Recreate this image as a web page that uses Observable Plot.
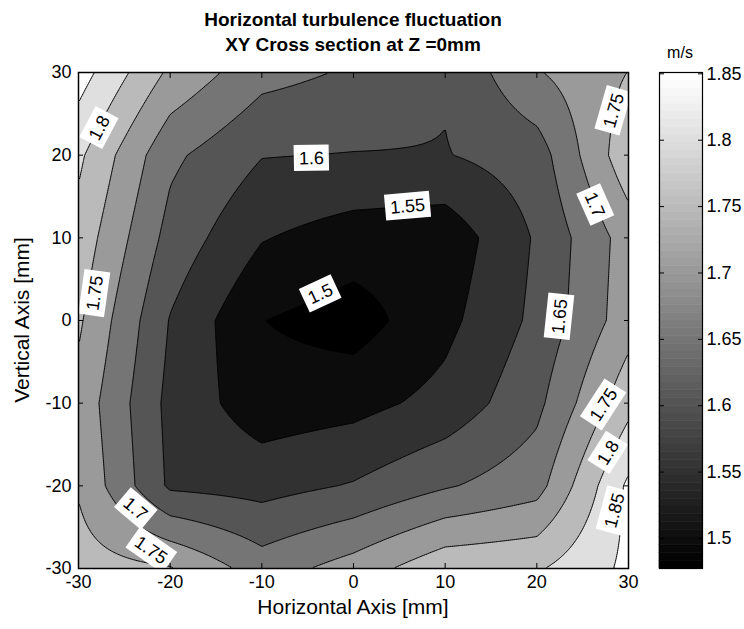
<!DOCTYPE html>
<html><head><meta charset="utf-8">
<script src="https://cdn.jsdelivr.net/npm/d3@7"></script>
<script src="https://cdn.jsdelivr.net/npm/@observablehq/plot@0.6"></script>
<style>
body{margin:0;background:#fff;}
#fig{position:relative;width:744px;height:629px;font-family:"Liberation Sans",Arial,Helvetica,sans-serif;color:#000;overflow:hidden;}
.abs{position:absolute;white-space:nowrap;line-height:1;}
</style></head><body><div id="fig"></div>
<script>
// ---- data (7x7 measurement grid, m/s) ----
const xGrid = [-30, -20, -10, 0, 10, 20, 30];
const yGrid = [30, 20, 10, 0, -10, -20, -30];
const rowY30  = [1.873, 1.740, 1.667, 1.644, 1.605, 1.696, 1.751];
const rowY20  = [1.810, 1.661, 1.602, 1.598, 1.5976, 1.625, 1.785];
const rowY10  = [1.781, 1.632, 1.553, 1.526, 1.5175, 1.606, 1.723];
const rowY0   = [1.758, 1.597, 1.501, 1.477, 1.536, 1.612, 1.728];
const rowYm10 = [1.733, 1.585, 1.521, 1.533, 1.566, 1.637, 1.784];
const rowYm20 = [1.745, 1.591, 1.581, 1.604, 1.645, 1.680, 1.860];
const rowYm30 = [1.773, 1.754, 1.675, 1.722, 1.787, 1.794, 1.861];
const levels = [1.5, 1.55, 1.6, 1.65, 1.7, 1.75, 1.8, 1.85];
const colorLimits = [1.4774, 1.851];
const axisTicks = [-30, -20, -10, 0, 10, 20, 30];
const colorbarTicks = [1.5, 1.55, 1.6, 1.65, 1.7, 1.75, 1.8, 1.85];
// contour labels (inline, MATLAB clabel style)
const labelText  = ["1.8", "1.75", "1.6", "1.55", "1.5", "1.75", "1.7", "1.65", "1.75", "1.8", "1.85", "1.7", "1.75"];
const labelX     = [-27.7, -28.2, -4.6, 5.9, -3.6, 28.4, 26.3, 22.5, 27.3, 27.8, 28.5, -23.8, -22.1];
const labelY     = [23.3, 3.3, 19.6, 13.8, 3.2, 25.4, 14.0, 0.5, -10.2, -16.0, -23.0, -22.8, -27.8];
const labelAngle = [-62, -82, -1, -5, -25, -74, 66, -84, -57, -58, -75, 40, 35];

const zRows = [rowY30, rowY20, rowY10, rowY0, rowYm10, rowYm20, rowYm30];
function gridValue(x, y) {
  const nx = xGrid.length - 1, ny = yGrid.length - 1;
  let fx = (x - xGrid[0]) / (xGrid[1] - xGrid[0]);
  let fy = (yGrid[0] - y) / (yGrid[0] - yGrid[1]);
  fx = Math.max(0, Math.min(nx - 1e-9, fx));
  fy = Math.max(0, Math.min(ny - 1e-9, fy));
  const i = Math.floor(fx), j = Math.floor(fy), tx = fx - i, ty = fy - j;
  const a = zRows[j][i], b = zRows[j][i + 1], c = zRows[j + 1][i], d = zRows[j + 1][i + 1];
  return (a * (1 - tx) + b * tx) * (1 - ty) + (c * (1 - tx) + d * tx) * ty;
}
// MATLAB 64-level gray colormap
function grayOf(v) {
  const [lo, hi] = colorLimits;
  const k = Math.max(0, Math.min(63, Math.floor((v - lo) / (hi - lo) * 64)));
  const g = Math.round(k / 63 * 255);
  return `rgb(${g},${g},${g})`;
}

const font = '"Liberation Sans", Arial, Helvetica, sans-serif';
const fig = document.getElementById("fig");

const main = Plot.plot({
  width: 640, height: 629,
  marginLeft: 78, marginRight: 12, marginTop: 72, marginBottom: 61,
  style: {fontFamily: font, fontSize: "18px", background: "transparent", overflow: "visible"},
  x: {domain: [-30, 30]},
  y: {domain: [-30, 30]},
  color: {type: "ordinal", domain: levels, range: levels.map(grayOf)},
  marks: [
    Plot.frame({fill: grayOf(colorLimits[0])}),
    Plot.contour({x1: -30, x2: 30, y1: -30, y2: 30, fill: gridValue, thresholds: levels, stroke: "black", strokeWidth: 1}),
    Plot.text(labelText.map((t, i) => i), {
      x: i => labelX[i], y: i => labelY[i], text: i => labelText[i], rotate: i => labelAngle[i],
      fontSize: 18, fill: "black"
    }),
    Plot.axisX({anchor: "bottom", ticks: axisTicks, tickSize: -5, tickPadding: 12, tickFormat: d => String(d), label: null}),
    Plot.axisX({anchor: "top", ticks: axisTicks, tickSize: -5, tickFormat: () => "", label: null}),
    Plot.axisY({anchor: "left", ticks: axisTicks, tickSize: -5, tickPadding: 12, tickFormat: d => String(d), label: null}),
    Plot.axisY({anchor: "right", ticks: axisTicks, tickSize: -5, tickFormat: () => "", label: null}),
    Plot.frame({stroke: "black", strokeWidth: 1.5})
  ]
});
main.style.position = "absolute"; main.style.left = "0px"; main.style.top = "0px";
fig.appendChild(main);

// white boxes behind inline contour labels (the rotated text elements of the text mark)
Array.from(main.querySelectorAll("text"))
  .filter(t => /rotate/.test(t.getAttribute("transform") || "") && labelText.includes(t.textContent))
  .forEach(t => {
    const b = t.getBBox();
    const r = document.createElementNS("http://www.w3.org/2000/svg", "rect");
    r.setAttribute("x", b.x - 5); r.setAttribute("y", b.y - 3.5);
    r.setAttribute("width", b.width + 10); r.setAttribute("height", b.height + 6);
    r.setAttribute("fill", "white");
    r.setAttribute("transform", t.getAttribute("transform"));
    t.parentNode.insertBefore(r, t);
  });

// colorbar
const steps = d3.range(64).map(k => ({
  lo: colorLimits[0] + k * (colorLimits[1] - colorLimits[0]) / 64,
  hi: colorLimits[0] + (k + 1) * (colorLimits[1] - colorLimits[0]) / 64,
  c: `rgb(${Math.round(k / 63 * 255)},${Math.round(k / 63 * 255)},${Math.round(k / 63 * 255)})`
}));
const cbar = Plot.plot({
  width: 104, height: 629,
  marginLeft: 19, marginRight: 42, marginTop: 72, marginBottom: 61,
  style: {fontFamily: font, fontSize: "18px", background: "transparent", overflow: "visible"},
  y: {domain: colorLimits},
  color: {type: "identity"},
  marks: [
    Plot.rect(steps, {y1: "lo", y2: "hi", fill: "c", stroke: "c", strokeWidth: 0.6}),
    Plot.axisY({anchor: "right", ticks: colorbarTicks, tickSize: -5, tickPadding: 9, tickFormat: d => String(d), label: null}),
    Plot.axisY({anchor: "left", ticks: colorbarTicks, tickSize: -5, tickFormat: () => "", label: null}),
    Plot.frame({stroke: "black", strokeWidth: 1.2})
  ]
});
cbar.style.position = "absolute"; cbar.style.left = "640px"; cbar.style.top = "0px";
fig.appendChild(cbar);

// titles & axis labels
function addText(txt, css) {
  const d = document.createElement("div");
  d.className = "abs"; d.textContent = txt;
  Object.assign(d.style, css);
  fig.appendChild(d);
}
addText("Horizontal turbulence fluctuation", {left: "353px", top: "10px", transform: "translateX(-50%)", fontSize: "19px", fontWeight: "bold"});
addText("XY Cross section at Z =0mm", {left: "353px", top: "35px", transform: "translateX(-50%)", fontSize: "19px", fontWeight: "bold"});
addText("m/s", {left: "680px", top: "45px", transform: "translateX(-50%)", fontSize: "16px"});
addText("Horizontal Axis [mm]", {left: "353px", top: "596px", transform: "translateX(-50%)", fontSize: "21px"});
addText("Vertical Axis [mm]", {left: "21px", top: "320px", transform: "translate(-50%,-50%) rotate(-90deg)", fontSize: "21px"});
</script></body></html>
